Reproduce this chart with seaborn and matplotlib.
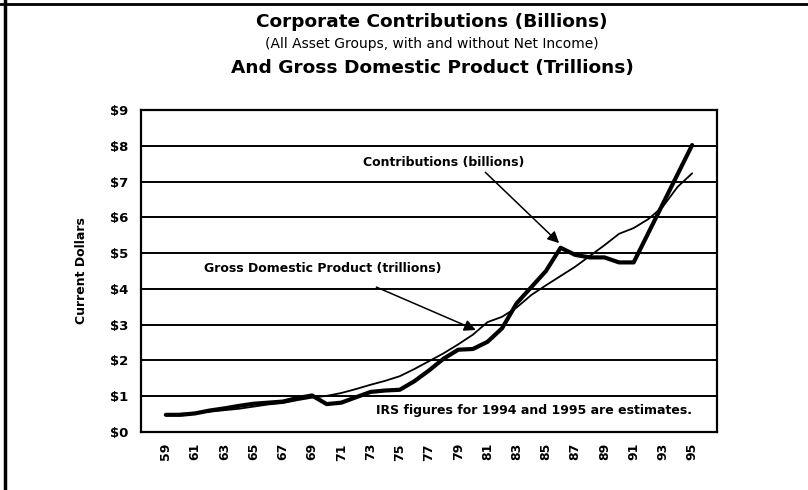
import matplotlib
matplotlib.use("Agg")
import matplotlib.pyplot as plt
from matplotlib.lines import Line2D
import pandas as pd
import seaborn as sns

# Calendar years (19xx)
years = list(range(59, 96))

# Corporate contributions, billions of dollars
contributions = [0.48, 0.48, 0.52, 0.60, 0.66, 0.73, 0.79, 0.82, 0.85, 0.95,
                 1.02, 0.78, 0.82, 0.97, 1.12, 1.16, 1.18, 1.42, 1.72, 2.05,
                 2.30, 2.32, 2.52, 2.90, 3.60, 4.05, 4.50, 5.15, 4.95, 4.88,
                 4.88, 4.74, 4.74, 5.56, 6.38, 7.20, 8.02]

# Gross domestic product, trillions of dollars
gdp = [0.49, 0.51, 0.53, 0.57, 0.61, 0.65, 0.71, 0.77, 0.81, 0.89,
       0.96, 1.01, 1.09, 1.20, 1.32, 1.43, 1.56, 1.76, 1.98, 2.20,
       2.45, 2.72, 3.07, 3.22, 3.48, 3.83, 4.10, 4.36, 4.62, 4.92,
       5.22, 5.54, 5.70, 5.95, 6.30, 6.85, 7.23]

y_ticks = list(range(0, 10))
y_tick_labels = ["$" + str(v) for v in y_ticks]
x_ticks = list(range(59, 96, 2))
x_tick_labels = [str(v) for v in x_ticks]

title_lines = ["Corporate Contributions (Billions)",
               "(All Asset Groups, with and without Net Income)",
               "And Gross Domestic Product (Trillions)"]

sns.set_style("white")
plt.rcParams["font.family"] = ["DejaVu Sans"]
plt.rcParams["text.color"] = "black"
plt.rcParams["axes.labelcolor"] = "black"
plt.rcParams["xtick.color"] = "black"
plt.rcParams["ytick.color"] = "black"

W, H = 808, 490
fig = plt.figure(figsize=(W / 100, H / 100), dpi=100)
ax = fig.add_axes([141 / W, 1 - 432 / H, (717 - 141) / W, (432 - 110) / H])

df = pd.DataFrame({"year": years, "contributions": contributions, "gdp": gdp})
sns.lineplot(data=df, x="year", y="gdp", ax=ax, color="black",
             linewidth=1.3, zorder=3)
sns.lineplot(data=df, x="year", y="contributions", ax=ax, color="black",
             linewidth=3.0, zorder=4)

ax.set_xlim(57.3, 96.7)
ax.set_ylim(0, 9)

ax.set_yticks(y_ticks)
ax.set_yticklabels(y_tick_labels, fontsize=9.5, fontweight="bold", color="black")
ax.set_xticks(x_ticks)
ax.set_xticklabels(x_tick_labels, fontsize=9, fontweight="bold", rotation=90,
                   color="black")
ax.tick_params(axis="y", length=0, pad=9)
ax.tick_params(axis="x", direction="in", length=5, width=1.5, color="black", pad=8)

ax.set_xlabel("")
ax.set_ylabel("Current Dollars", fontsize=9, fontweight="bold", color="black")
ax.yaxis.set_label_coords(-0.092, 0.5)

ax.yaxis.grid(True, color="black", linewidth=1.4)
ax.xaxis.grid(False)
ax.set_axisbelow(True)
for s in ax.spines.values():
    s.set_color("black")
    s.set_linewidth(1.6)
    s.set_visible(True)

# Callouts
arrow = dict(arrowstyle="-|>", color="black", lw=1.1, mutation_scale=17,
             shrinkA=0, shrinkB=0)
ax.text(78.0, 7.54, "Contributions (billions)", ha="center", va="center",
        fontsize=9, fontweight="bold", color="black")
ax.annotate("", xy=(85.9, 5.28), xytext=(80.85, 7.26), arrowprops=arrow)

ax.text(69.7, 4.58, "Gross Domestic Product (trillions)", ha="center",
        va="center", fontsize=9, fontweight="bold", color="black")
ax.annotate("", xy=(80.2, 2.85), xytext=(73.4, 4.05), arrowprops=arrow)

ax.text(95.0, 0.59, "IRS figures for 1994 and 1995 are estimates.",
        ha="right", va="center", fontsize=9, fontweight="bold", color="black")

# Titles
cx = 432 / W
fig.text(cx, 1 - 22 / H, title_lines[0], ha="center", va="center",
         fontsize=13.3, fontweight="bold", color="black")
fig.text(cx, 1 - 44 / H, title_lines[1], ha="center", va="center",
         fontsize=10, color="black")
fig.text(cx, 1 - 68 / H, title_lines[2], ha="center", va="center",
         fontsize=13.3, fontweight="bold", color="black")

# Page rules along the top and left edges
fig.add_artist(Line2D([0, 1], [1 - 4 / H, 1 - 4 / H], transform=fig.transFigure,
                      color="black", linewidth=2))
fig.add_artist(Line2D([5 / W, 5 / W], [0, 1], transform=fig.transFigure,
                      color="black", linewidth=2.5))

fig.savefig("out.png", dpi=100)
